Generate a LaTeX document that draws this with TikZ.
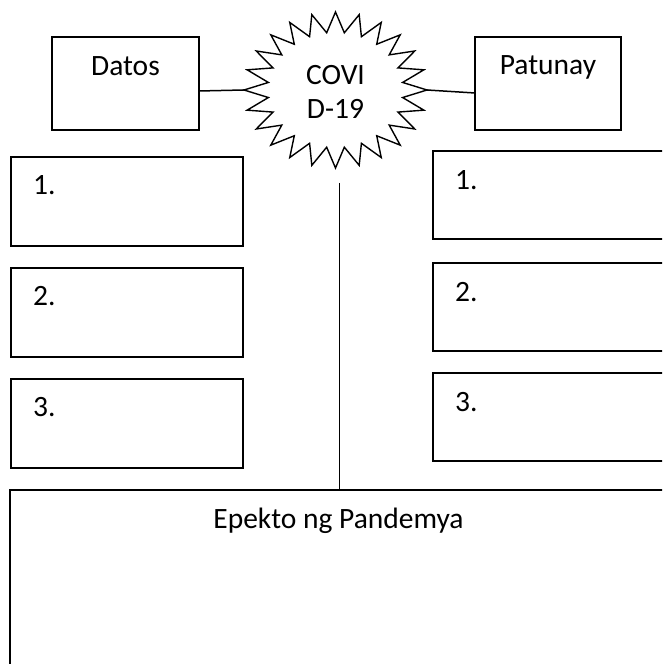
\documentclass[tikz,border=0pt]{standalone}
\usepackage{fontspec}
\setmainfont{Carlito}
\usetikzlibrary{calc,positioning}

\begin{document}
\begin{tikzpicture}[x=1pt, y=1pt,
    box/.style={draw, line width=1.5pt, inner sep=0pt, outer sep=0pt},
    numbox/.style={box, minimum width=232pt, minimum height=89pt},
    rnumbox/.style={box, minimum width=250pt, minimum height=88pt},
    lbl/.style={font=\fontsize{29.5}{34}\selectfont, inner sep=0pt},
    link/.style={line width=1.5pt}
]

%%%
    \useasboundingbox (0,0) rectangle (662,664);
    \clip (0,0) rectangle (662,664);

    % the burst in the middle
    \draw[line width=1.4pt, shift={(335.5,574)}] (0:91.5 and 78)
        \foreach \a in {0,15,...,345}{ -- ({\a+7.5}:67.7 and 57.7) -- ({\a+15}:91.5 and 78)} -- cycle;
    \coordinate (starW) at (244,574);
    \coordinate (starE) at (427,574);
    \coordinate (starS) at (339.5,481);
    \node[lbl, anchor=base] (covi) at (335.5,579) {COVI};
    \node[lbl, anchor=base] (covid) at (335.5,545) {D-19};

    % top boxes
    \node[box, minimum width=147pt, minimum height=93pt] (datos) at (125.5,580.5) {};
    \node[box, minimum width=146pt, minimum height=93pt] (patunay) at (548,580.5) {};
    \node[lbl, anchor=base] (datos-t) at ([yshift=-39pt]datos.north) {Datos};
    \node[lbl, anchor=base] (patunay-t) at ([yshift=-38pt]patunay.north) {Patunay};

    \draw[link] (datos.east |- 0,573) -- (starW);
    \draw[link] (starE) -- (patunay.west |- 0,571);

    % left column
    \node[numbox] (l1) at (127,462.5) {};
    \node[numbox, below=22pt of l1] (l2) {};
    \node[numbox, below=22pt of l2] (l3) {};

    % right column
    \node[rnumbox] (r1) at (558,469) {};
    \node[rnumbox, below=24pt of r1] (r2) {};
    \node[rnumbox, below=22pt of r2] (r3) {};

    \foreach \i in {1,2,3}{
        \node[lbl, anchor=base west] (l\i-t) at ([xshift=22pt, yshift=-38pt]l\i.north west) {\i.};
        \node[lbl, anchor=base west] (r\i-t) at ([xshift=22pt, yshift=-39pt]r\i.north west) {\i.};
    }

    % bottom box
    \node[box, minimum width=680pt, minimum height=210pt] (epekto) at (350,69) {};
    \node[lbl, anchor=base] (epekto-t) at (338.5,135) {Epekto ng Pandemya};

    \draw[link] (starS) -- (starS |- epekto.north);

\end{tikzpicture}
\end{document}
